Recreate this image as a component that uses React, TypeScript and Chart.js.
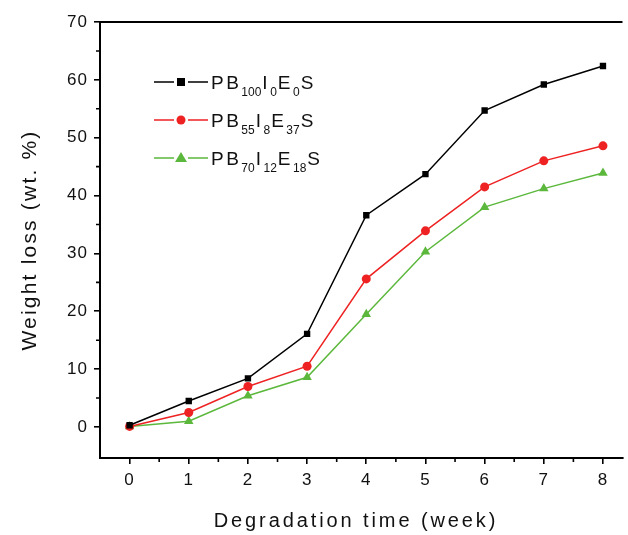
import React, { useEffect, useRef } from "react";
import { Chart, registerables } from "chart.js";

Chart.register(...registerables);

const weeks = [0, 1, 2, 3, 4, 5, 6, 7, 8];
const pb100 = [0.3, 4.5, 8.4, 16.1, 36.6, 43.7, 54.7, 59.2, 62.4];
const pb55 = [0.1, 2.5, 7.0, 10.5, 25.6, 33.9, 41.5, 46.0, 48.6];
const pb70 = [0.1, 1.0, 5.4, 8.6, 19.5, 30.3, 38.0, 41.2, 43.9];
const yTicks = [0, 10, 20, 30, 40, 50, 60, 70];
const xTicks = [0, 1, 2, 3, 4, 5, 6, 7, 8];
const yMinor = [5, 15, 25, 35, 45, 55, 65];
const xMinor = [0.5, 1.5, 2.5, 3.5, 4.5, 5.5, 6.5, 7.5];

const BLACK = "#000000";
const RED = "#ee2222";
const GREEN = "#5cb83c";
const FONT = "'Liberation Sans', Arial, sans-serif";

type Seg = { t: string; sub?: boolean };
const legendItems: { color: string; style: string; segs: Seg[] }[] = [
  { color: BLACK, style: "rect", segs: [{ t: "PB" }, { t: "100", sub: true }, { t: "I" }, { t: "0", sub: true }, { t: "E" }, { t: "0", sub: true }, { t: "S" }] },
  { color: RED, style: "circle", segs: [{ t: "PB" }, { t: "55", sub: true }, { t: "I" }, { t: "8", sub: true }, { t: "E" }, { t: "37", sub: true }, { t: "S" }] },
  { color: GREEN, style: "triangle", segs: [{ t: "PB" }, { t: "70", sub: true }, { t: "I" }, { t: "12", sub: true }, { t: "E" }, { t: "18", sub: true }, { t: "S" }] },
];

const decor = {
  id: "decor",
  beforeDraw(chart: any) {
    (chart.ctx as any).letterSpacing = "1px";
  },
  afterDraw(chart: any) {
    const ctx = chart.ctx as CanvasRenderingContext2D;
    const { left, right, top, bottom } = chart.chartArea;
    const xs = chart.scales.x;
    const ys = chart.scales.y;
    ctx.save();
    ctx.strokeStyle = "#000";
    ctx.lineWidth = 2;
    ctx.beginPath();
    ctx.moveTo(left - 1, top);
    ctx.lineTo(right, top);
    ctx.stroke();
    ctx.lineWidth = 1.6;
    ctx.beginPath();
    for (const v of yMinor) {
      const y = ys.getPixelForValue(v);
      ctx.moveTo(left, y);
      ctx.lineTo(left - 4, y);
    }
    for (const v of xMinor) {
      const x = xs.getPixelForValue(v);
      ctx.moveTo(x, bottom);
      ctx.lineTo(x, bottom + 4);
    }
    ctx.stroke();

    // axis titles
    ctx.fillStyle = "#111";
    ctx.font = `20px ${FONT}`;
    (ctx as any).letterSpacing = "2.9px";
    ctx.textAlign = "center";
    ctx.textBaseline = "middle";
    ctx.fillText("Degradation time (week)", 356, 521);
    ctx.save();
    ctx.translate(30, 240);
    ctx.rotate(-Math.PI / 2);
    ctx.font = `21px ${FONT}`;
    (ctx as any).letterSpacing = "2.2px";
    ctx.fillText("Weight loss (wt. %)", 0, 0);
    ctx.restore();

    // legend
    const rows = [82, 120, 158];
    legendItems.forEach((it, i) => {
      const y = rows[i];
      ctx.strokeStyle = it.color;
      ctx.fillStyle = it.color;
      ctx.lineWidth = 1.6;
      ctx.beginPath();
      ctx.moveTo(154, y);
      ctx.lineTo(174, y);
      ctx.moveTo(188, y);
      ctx.lineTo(208, y);
      ctx.stroke();
      ctx.beginPath();
      if (it.style === "rect") {
        ctx.fillRect(177, y - 4, 8, 8);
      } else if (it.style === "circle") {
        ctx.arc(181, y, 4.5, 0, Math.PI * 2);
        ctx.fill();
      } else {
        ctx.moveTo(181, y - 6);
        ctx.lineTo(187, y + 4);
        ctx.lineTo(175, y + 4);
        ctx.closePath();
        ctx.fill();
      }
      ctx.fillStyle = "#111";
      ctx.textAlign = "left";
      ctx.textBaseline = "alphabetic";
      let x = 211;
      for (const s of it.segs) {
        if (s.sub) {
          ctx.font = `12px ${FONT}`;
          (ctx as any).letterSpacing = "0px";
          ctx.fillText(s.t, x + 1, y + 14);
          x += ctx.measureText(s.t).width + 2;
        } else {
          ctx.font = `19px ${FONT}`;
          (ctx as any).letterSpacing = "2.5px";
          ctx.fillText(s.t, x, y + 7);
          x += ctx.measureText(s.t).width - 1;
        }
      }
    });
    ctx.restore();
  },
};

function mk(label: string, data: number[], color: string, style: string, r: number) {
  return {
    label,
    data: weeks.map((w, i) => ({ x: w, y: data[i] })),
    borderColor: color,
    backgroundColor: color,
    pointStyle: style,
    pointRadius: r,
    pointBorderWidth: 0,
    borderWidth: 1.5,
    tension: 0,
  };
}

export default function App() {
  const ref = useRef<HTMLCanvasElement>(null);
  useEffect(() => {
    document.body.style.margin = "0";
    const chart = new Chart(ref.current!, {
      type: "line",
      data: {
        datasets: [
          mk("PB100I0E0S", pb100, BLACK, "rect", 4.5),
          mk("PB55I8E37S", pb55, RED, "circle", 4.5),
          mk("PB70I12E18S", pb70, GREEN, "triangle", 5.5),
        ] as any,
      },
      options: {
        animation: false,
        responsive: false,
        layout: { padding: { top: 22, right: 0, left: 0, bottom: 0 } },
        plugins: { legend: { display: false }, tooltip: { enabled: false } },
        scales: {
          x: {
            type: "linear",
            min: -0.5,
            max: 8.33,
            afterBuildTicks: (s: any) => {
              s.ticks = xTicks.map((v) => ({ value: v }));
            },
            afterFit: (s: any) => {
              s.height = 77;
            },
            ticks: { color: "#111", font: { size: 17, family: FONT }, padding: 6, maxRotation: 0 },
            grid: { drawOnChartArea: false, drawTicks: true, tickLength: 6, color: "#000", lineWidth: 1.6 },
            border: { display: true, color: "#000", width: 2 },
          },
          y: {
            type: "linear",
            min: -5.36,
            max: 70,
            afterBuildTicks: (s: any) => {
              s.ticks = yTicks.map((v) => ({ value: v }));
            },
            afterFit: (s: any) => {
              s.width = 100;
            },
            ticks: { color: "#111", font: { size: 17, family: FONT }, padding: 6 },
            grid: { drawOnChartArea: false, drawTicks: true, tickLength: 6, color: "#000", lineWidth: 1.6 },
            border: { display: true, color: "#000", width: 2 },
          },
        },
      },
      plugins: [decor],
    });
    return () => chart.destroy();
  }, []);
  return <canvas ref={ref} width={628} height={535} style={{ display: "block" }} />;
}
